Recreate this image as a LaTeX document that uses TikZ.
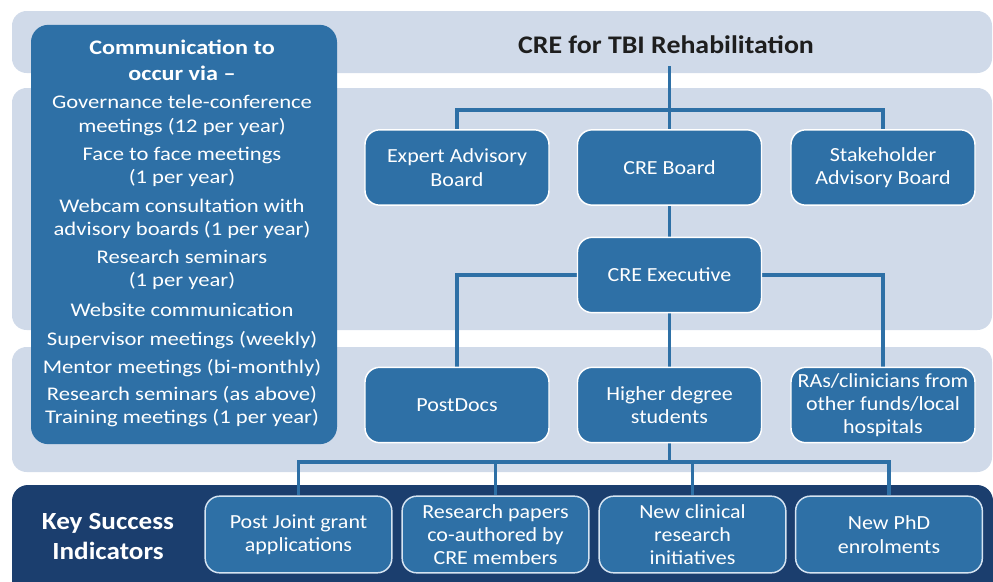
\documentclass[tikz,border=0pt]{standalone}
\usepackage{fontspec}
\setmainfont{Carlito}[FakeStretch=1.1]
\newfontfamily\commfont{Carlito}[FakeStretch=1.17]
\definecolor{bandblue}{RGB}{208,218,233}
\definecolor{boxblue}{RGB}{46,112,166}
\definecolor{navy}{RGB}{27,62,110}
\definecolor{edgeblue}{RGB}{214,228,242}
\definecolor{titlegray}{RGB}{30,30,30}
\pgfdeclarelayer{bands}
\pgfdeclarelayer{links}
\pgfsetlayers{bands,links,main}
\begin{document}
\begin{tikzpicture}[x=0.75pt,y=-0.75pt,
  band/.style={fill=bandblue,rounded corners=11pt},
  orgbox/.style={draw=white,line width=1.1pt,fill=boxblue,rounded corners=11pt,
    minimum width=138pt,minimum height=56.5pt,inner sep=2pt,align=center,
    text=white,font=\fontsize{15}{17.5}\selectfont},
  ksibox/.style={orgbox,draw=edgeblue,minimum width=140pt,minimum height=57.5pt},
  commline/.style={anchor=base,text=white,inner sep=0pt,font=\commfont\fontsize{14.5}{16}\selectfont},
  commhead/.style={commline,font=\commfont\bfseries\fontsize{15.5}{17}\selectfont},
  link/.style={draw=boxblue,line width=2.6pt}]
\useasboundingbox (0,0) rectangle (993,582);

% background bands
\begin{pgfonlayer}{bands}
  \fill[band] (12,11) rectangle (992,73);
  \fill[band] (12,88) rectangle (992,330);
  \fill[band] (12,347) rectangle (992,472);
  \fill[fill=navy,rounded corners=12pt] (12,485) rectangle (993,610);
\end{pgfonlayer}

% communication panel
\node[fill=boxblue,rounded corners=13pt,minimum width=229.5pt,minimum height=314.5pt,inner sep=0pt]
  (comm) at (184,234.5) {};
\node[commhead] (ch1) at (182,54) {Communication to};
\node[commhead] (ch2) at (182,80) {occur via –};
\foreach \yy/\tt [count=\i] in {
  108/{Governance tele-conference},
  132/{meetings (12 per year)},
  160/{Face to face meetings},
  183/{(1 per year)},
  212/{Webcam consultation with},
  235/{advisory boards (1 per year)},
  263/{Research seminars},
  286/{(1 per year)},
  316/{Website communication},
  345/{Supervisor meetings (weekly)},
  373/{Mentor meetings (bi-monthly)},
  400/{Research seminars (as above)},
  423/{Training meetings (1 per year)}}
  \node[commline] (c\i) at (182,\yy) {\tt};

% title
\node[anchor=base,text=titlegray,inner sep=0pt,font=\bfseries\fontsize{19}{22}\selectfont]
  (title) at (666,53) {CRE for TBI Rehabilitation};

% organisation
\node[orgbox] (ead)   at (457,167.5)   {Expert Advisory\\Board};
\node[orgbox] (board) at (669.5,167.5) {CRE Board};
\node[orgbox] (sab)   at (883,167.5)   {Stakeholder\\Advisory Board};
\node[orgbox] (exec)  at (669.5,275)   {CRE Executive};
\node[orgbox] (post)  at (457,405)     {PostDocs};
\node[orgbox] (hds)   at (669.5,405)   {Higher degree\\students};
\node[orgbox] (ras)   at (883,405)     {RAs/clinicians from\\other funds/local\\hospitals};

% key success indicators
\node[text=white,align=center,inner sep=0pt,font=\bfseries\fontsize{18.5}{22.5}\selectfont]
  (ksi) at (108,536) {Key Success\\Indicators};
\node[ksibox] (k1) at (298.5,534.5) {Post Joint grant\\applications};
\node[ksibox] (k2) at (495.5,534.5) {Research papers\\co-authored by\\CRE members};
\node[ksibox] (k3) at (692.5,534.5) {New clinical\\research\\initiatives};
\node[ksibox] (k4) at (889,534.5)   {New PhD\\enrolments};

% connectors
\coordinate (stem) at (669.5,66);
\coordinate (topbus) at (669.5,110);
\coordinate (lowbus) at (669.5,462);
\begin{pgfonlayer}{links}
  \draw[link] (stem) -- (board.north);
  \draw[link] (ead.north) |- (topbus) -| (sab.north);
  \draw[link] (board.south) -- (exec.north);
  \draw[link] (exec.west) -| (post.north);
  \draw[link] (exec.east) -| (ras.north);
  \draw[link] (exec.south) -- (hds.north);
  \draw[link] (hds.south) -- (lowbus);
  \draw[link] (k1.north) |- (lowbus) -| (k4.north);
  \draw[link] (k2.north) |- (lowbus);
  \draw[link] (k3.north) |- (lowbus);
\end{pgfonlayer}
\end{tikzpicture}
\end{document}
